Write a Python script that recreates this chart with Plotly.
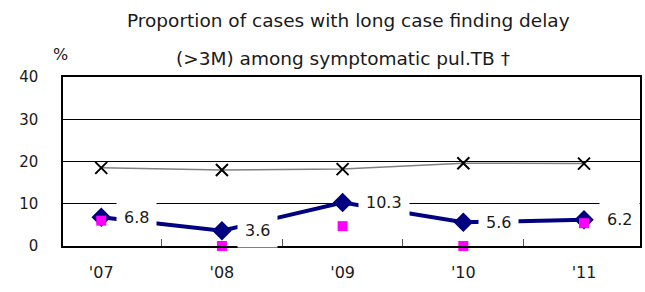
import plotly.graph_objects as go

years = ["'07", "'08", "'09", "'10", "'11"]
long_delay = [6.8, 3.6, 10.3, 5.6, 6.2]
cross_series = [18.5, 18.0, 18.2, 19.6, 19.5]
square_series = [6.0, 0.0, 4.7, 0.0, 5.4]
y_ticks = [0, 10, 20, 30, 40]
title_lines = ["Proportion of cases with long case finding delay",
               "(>3M) among symptomatic pul.TB \u2020"]

FONT = "DejaVu Sans"
TXT = "#1a1a1a"

# plot area in pixels
L, R, T, B = 63, 640, 77, 246
PW, PH = R - L, B - T

fig = go.Figure()
fig.add_trace(go.Scatter(
    x=years, y=cross_series, mode="lines+markers",
    line=dict(color="#808080", width=1.5),
    marker=dict(symbol="x-thin", size=12, line=dict(color="black", width=2), color="black"),
    showlegend=False, cliponaxis=False))
fig.add_trace(go.Scatter(
    x=years, y=long_delay, mode="lines+markers",
    line=dict(color="#000080", width=4),
    marker=dict(symbol="diamond", size=15, color="#000080"),
    showlegend=False, cliponaxis=False))
fig.add_trace(go.Scatter(
    x=years, y=square_series, mode="markers",
    marker=dict(symbol="square", size=10, color="#FF00FF"),
    showlegend=False, cliponaxis=False))

for xv, yv in zip(years, long_delay):
    fig.add_annotation(
        x=xv, y=yv, text=f"{yv:.1f}", showarrow=False,
        xanchor="left", yanchor="middle", xshift=15,
        bgcolor="white", borderpad=7,
        font=dict(family=FONT, size=16, color=TXT))

def px_x(px):
    return (px - L) / PW

def px_y(py):
    return (B - py) / PH

fig.add_annotation(xref="paper", yref="paper", xanchor="center", yanchor="middle",
                   x=px_x(348), y=px_y(20), text=title_lines[0],
                   showarrow=False, font=dict(family=FONT, size=18.5, color=TXT))
fig.add_annotation(xref="paper", yref="paper", xanchor="center", yanchor="middle",
                   x=px_x(343), y=px_y(58), text=title_lines[1],
                   showarrow=False, font=dict(family=FONT, size=18.5, color=TXT))
fig.add_annotation(xref="paper", yref="paper", xanchor="center", yanchor="middle",
                   x=px_x(60), y=px_y(54), text="%",
                   showarrow=False, font=dict(family=FONT, size=16, color=TXT))

fig.update_layout(
    width=645, height=292,
    margin=dict(l=L, r=645 - R, t=T, b=292 - B, autoexpand=False),
    paper_bgcolor="white", plot_bgcolor="white",
    font=dict(family=FONT, size=15, color=TXT),
)
fig.update_xaxes(
    type="category", automargin=False,
    showline=True, linecolor="black", linewidth=1.5, mirror=True,
    ticks="inside", tickson="boundaries", ticklen=7, tickcolor="#555555", tickwidth=1,
    showgrid=False, ticklabelstandoff=11,
    tickfont=dict(family=FONT, size=16, color=TXT),
)
fig.update_yaxes(
    range=[0, 40], tickvals=y_ticks, automargin=False,
    showline=True, linecolor="black", linewidth=1.5,
    mirror=True, showgrid=True, gridcolor="black", gridwidth=1, zeroline=False,
    ticks="", ticklabelstandoff=20,
    tickfont=dict(family=FONT, size=15, color=TXT),
)

fig.write_html("out.html", config={"displayModeBar": False},
               post_script="document.body.style.margin='0';document.body.style.overflow='hidden';")
